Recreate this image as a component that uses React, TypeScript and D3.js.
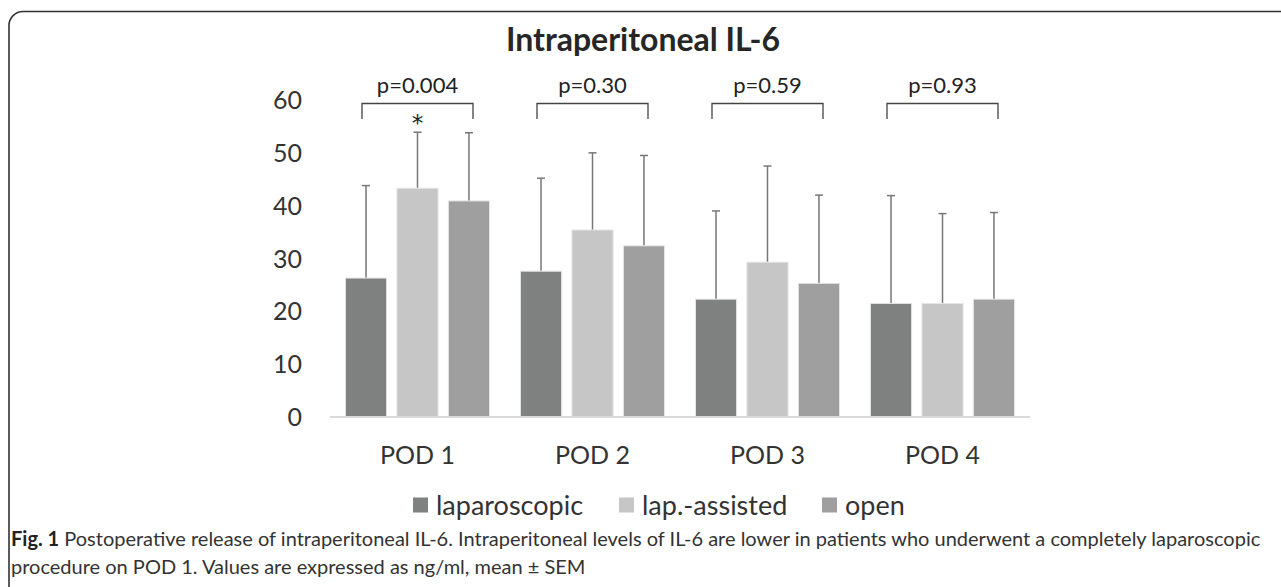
import React from 'react'
import * as d3 from 'd3'

// chart data
const pods = ['POD 1', 'POD 2', 'POD 3', 'POD 4']
const groups = ['laparoscopic', 'lap.-assisted', 'open']
const laparoscopic = [26.3, 27.6, 22.3, 21.5]
const lapAssisted = [43.3, 35.4, 29.3, 21.5]
const openSurgery = [40.9, 32.4, 25.3, 22.3]
const semLaparoscopic = [17.5, 17.6, 16.7, 20.4]
const semLapAssisted = [10.6, 14.6, 18.2, 17.0]
const semOpen = [12.9, 17.1, 16.7, 16.4]
const pValues = ['p=0.004', 'p=0.30', 'p=0.59', 'p=0.93']
const significant = [true, false, false, false]
const yTicks = [0, 10, 20, 30, 40, 50, 60]

const means = [laparoscopic, lapAssisted, openSurgery]
const sems = [semLaparoscopic, semLapAssisted, semOpen]
const colors = ['#7f8180', '#c6c6c6', '#9f9f9f']

const W = 1281
const H = 587
const font = 'Lato, "Open Sans", sans-serif'

export default function App() {
  const x0 = d3.scaleBand().domain(pods).range([330, 1030]).padding(0)
  const x1 = d3.scaleBand().domain(groups).range([0, x0.bandwidth()]).paddingInner(0.2).paddingOuter(0.3)
  const y = d3.scaleLinear().domain([0, 60]).range([417, 100])

  const legendX = [413, 619, 822]

  return (
    <svg width={W} height={H} style={{position: 'absolute', left: 0, top: 0, background: '#fff'}} fontFamily={font}>
      {/* frame */}
      <rect x={9} y={11.5} width={1300} height={620} rx={14} fill="none" stroke="#333" strokeWidth={1.6} />

      <text x={643} y={51} textAnchor="middle" fontSize={32} fontWeight="bold" fill="#262626">
        Intraperitoneal IL-6
      </text>

      {/* y axis labels */}
      {yTicks.map(t => (
        <text key={t} x={302} y={y(t)} dy="0.36em" textAnchor="end" fontSize={25} fill="#333">{t}</text>
      ))}

      {/* bars */}
      {pods.map((p, i) => (
        <g key={p} transform={`translate(${x0(p)},0)`}>
          {groups.map((g, j) => {
            const v = means[j][i]
            const top = v + sems[j][i]
            const cx = x1(g)! + x1.bandwidth() / 2
            return (
              <g key={g}>
                <line x1={cx} x2={cx} y1={y(v)} y2={y(top)} stroke="#777" strokeWidth={1.5} />
                <line x1={cx - 4} x2={cx + 4} y1={y(top)} y2={y(top)} stroke="#777" strokeWidth={1.5} />
                <rect x={x1(g)} y={y(v)} width={x1.bandwidth()} height={y(0) - y(v)}
                  fill={colors[j]} stroke="#e6e6e6" strokeWidth={1} />
              </g>
            )
          })}
        </g>
      ))}

      {/* baseline */}
      <line x1={330} x2={1030} y1={y(0)} y2={y(0)} stroke="#d9d9d9" strokeWidth={2} />

      {/* brackets and p values */}
      {pods.map((p, i) => {
        const c = x0(p)! + x0.bandwidth() / 2
        return (
          <g key={p}>
            <path d={`M${c - 55.5},119V103.5H${c + 55.5}V119`} fill="none" stroke="#444" strokeWidth={1.3} />
            <text x={c} y={93} textAnchor="middle" fontSize={22} fill="#222">{pValues[i]}</text>
            {significant[i] && (
              <text x={c} y={131} textAnchor="middle" fontSize={23} fontFamily="DejaVu Sans" fill="#222">*</text>
            )}
            <text x={c} y={455} dy="0.36em" textAnchor="middle" fontSize={25} fill="#333">{p}</text>
          </g>
        )
      })}

      {/* legend */}
      {groups.map((g, j) => (
        <g key={g}>
          <rect x={legendX[j]} y={497.5} width={15} height={15} fill={colors[j]} />
          <text x={legendX[j] + 23} y={505} dy="0.36em" fontSize={27} fill="#333">{g}</text>
        </g>
      ))}

      {/* caption */}
      <text x={11} y={546} fontSize={20} fill="#333">
        <tspan fontWeight="bold" fill="#222">Fig. 1</tspan>
        <tspan> Postoperative release of intraperitoneal IL-6. Intraperitoneal levels of IL-6 are lower in patients who underwent a completely laparoscopic</tspan>
      </text>
      <text x={11} y={574} fontSize={20} fill="#333">
        procedure on POD 1. Values are expressed as ng/ml, mean ± SEM
      </text>
    </svg>
  )
}
